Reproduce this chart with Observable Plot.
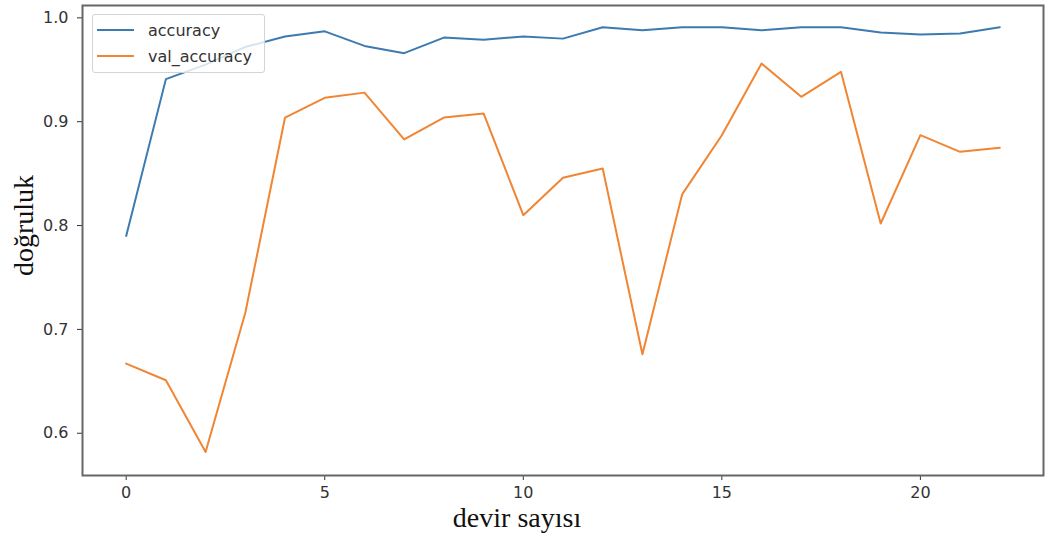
<!DOCTYPE html>
<html>
<head>
<meta charset="utf-8">
<script src="https://cdn.jsdelivr.net/npm/d3@7"></script>
<script src="https://cdn.jsdelivr.net/npm/@observablehq/plot@0.6"></script>
<style>
  body { margin: 0; background: #fff; }
  #chart { position: relative; width: 1051px; height: 543px; }
  .legend {
    position: absolute; left: 92px; top: 14px; width: 173px; height: 59px;
    box-sizing: border-box; border: 1px solid #d4d4d4; border-radius: 3px;
    background: rgba(255, 255, 255, 0.8);
    font: 16px "DejaVu Sans", sans-serif; color: #333;
  }
  .legend .item { position: absolute; left: 4px; height: 20px; display: flex; align-items: center; }
  .legend .swatch { width: 37px; height: 2px; margin-right: 14px; }
</style>
</head>
<body>
<div id="chart"></div>
<script>
// Training history: epoch index, training accuracy and validation accuracy
const epochs = [0, 1, 2, 3, 4, 5, 6, 7, 8, 9, 10, 11, 12, 13, 14, 15, 16, 17, 18, 19, 20, 21, 22];
const accuracy = [0.790, 0.941, 0.955, 0.972, 0.982, 0.987, 0.973, 0.966, 0.981, 0.979, 0.982, 0.980, 0.991, 0.988, 0.991, 0.991, 0.988, 0.991, 0.991, 0.986, 0.984, 0.985, 0.991];
const valAccuracy = [0.667, 0.651, 0.582, 0.716, 0.904, 0.923, 0.928, 0.883, 0.904, 0.908, 0.810, 0.846, 0.855, 0.676, 0.830, 0.887, 0.956, 0.924, 0.948, 0.802, 0.887, 0.871, 0.875];

const seriesNames = ["accuracy", "val_accuracy"];
const seriesColors = ["#3d7ab0", "#f08533"];
const xTicks = [0, 5, 10, 15, 20];
const yTicks = [0.6, 0.7, 0.8, 0.9, 1.0];
const xLabel = "devir sayısı";
const yLabel = "doğruluk";

const rows = [];
epochs.forEach((e, i) => {
  rows.push({epoch: e, value: accuracy[i], series: seriesNames[0]});
  rows.push({epoch: e, value: valAccuracy[i], series: seriesNames[1]});
});

const chart = Plot.plot({
  width: 1051,
  height: 543,
  marginLeft: 82,
  marginRight: 8,
  marginTop: 5,
  marginBottom: 68,
  style: {fontFamily: "DejaVu Sans", fontSize: "16px", color: "#333", background: "white", overflow: "visible"},
  x: {domain: [-1.1, 23.1], ticks: xTicks, tickFormat: d => String(d), tickSize: 5, tickPadding: 6, label: null},
  y: {domain: [0.5593, 1.0119], ticks: yTicks, tickFormat: d => d.toFixed(1), tickSize: 5, tickPadding: 9, label: null},
  color: {domain: seriesNames, range: seriesColors},
  marks: [
    Plot.line(rows, {x: "epoch", y: "value", z: "series", stroke: "series", strokeWidth: 2}),
    Plot.frame({stroke: "#666", strokeWidth: 2}),
    Plot.text([yLabel], {text: d => d, frameAnchor: "left", textAnchor: "middle", lineAnchor: "middle",
      rotate: -90, dx: -58, dy: -15, fontFamily: "Liberation Serif", fontSize: 28, fill: "#111"}),
    Plot.text([xLabel], {text: d => d, frameAnchor: "bottom", textAnchor: "middle", lineAnchor: "middle",
      dx: -46, dy: 43, fontFamily: "Liberation Serif", fontSize: 28, fill: "#111"})
  ]
});

const host = document.getElementById("chart");
host.appendChild(chart);

// Legend box in the upper-left corner of the plot area
const legend = document.createElement("div");
legend.className = "legend";
seriesNames.forEach((name, i) => {
  const item = document.createElement("div");
  item.className = "item";
  item.style.top = (5 + i * 26) + "px";
  const sw = document.createElement("span");
  sw.className = "swatch";
  sw.style.background = seriesColors[i];
  const label = document.createElement("span");
  label.textContent = name;
  item.appendChild(sw);
  item.appendChild(label);
  legend.appendChild(item);
});
host.appendChild(legend);
</script>
</body>
</html>
